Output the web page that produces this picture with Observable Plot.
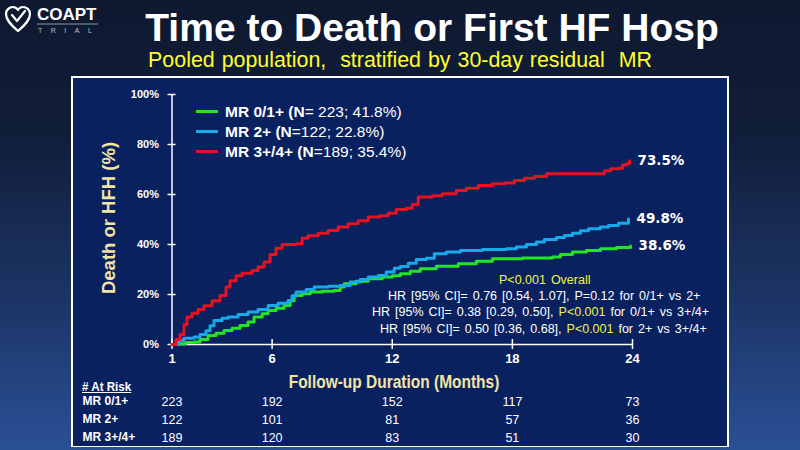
<!DOCTYPE html>
<html><head><meta charset="utf-8">
<script src="https://cdn.jsdelivr.net/npm/d3@7"></script>
<script src="https://cdn.jsdelivr.net/npm/@observablehq/plot@0.6"></script>
<style>
html,body{margin:0;padding:0}
body{width:800px;height:450px;overflow:hidden;position:relative;font-family:"Liberation Sans",Arial,sans-serif;
 background:linear-gradient(180deg,#0e1930 0%,#111e3a 30%,#1d376a 70%,#2b5096 100%);}
.abs{position:absolute;white-space:nowrap}
#title{left:32px;width:800px;top:7px;text-align:center;color:#fff;font-weight:bold;font-size:39px;line-height:42px}
#subtitle{left:0px;width:800px;top:48px;text-align:center;color:#ffff2a;font-size:21.4px;line-height:24px;word-spacing:1px}
#panel{left:71px;top:76px;width:658px;height:371px;box-sizing:border-box;border:2px solid #fff;border-bottom-width:1.5px;background:#0a2160}
#panel svg{position:absolute;left:0}
.leg{position:absolute;color:#fff;font-size:15.5px;line-height:18px;white-space:nowrap}
.leg b{font-weight:bold}
.sw{display:inline-block;width:22px;height:3px;vertical-align:middle;margin-right:7px;position:relative;top:-1px}
.stat{position:absolute;color:#fff;font-size:12.5px;line-height:14px;white-space:nowrap;word-spacing:1.5px}
.y{color:#f2f24a}
#ylab{left:109px;top:218px;transform:translate(-50%,-50%) rotate(-90deg);color:#f3e4a4;font-weight:bold;font-size:18.5px}
#xlab{left:394px;top:382px;transform:translate(-50%,-50%) scaleX(0.86);color:#f3e4a4;font-weight:bold;font-size:18px}
#risk{left:82px;top:379px;transform-origin:left center;transform:scaleX(0.86);color:#fff;font-weight:bold;font-size:13.5px;text-decoration:underline}
</style></head>
<body>
<svg class="abs" style="left:3px;top:3px" width="100" height="32" viewBox="0 0 100 32">
  <path d="M15 28 C8 22 3 17 3 11 C3 6.5 6.5 4 10 4 C12.5 4 14 5.5 15 7 M15 28 C22 22 27 17 27 11 C27 6.5 23.5 4 20 4 C18 4 16.5 5 15.5 6" fill="none" stroke="#fff" stroke-width="2.2" stroke-linecap="round"/>
  <path d="M9 12 L14 18 L22 8" fill="none" stroke="#fff" stroke-width="2.2" stroke-linecap="round" stroke-linejoin="round"/>
  <text x="34" y="17" fill="#fff" font-family="Liberation Sans,Arial" font-weight="bold" font-size="17">COAPT</text>
  <line x1="34" y1="21" x2="95" y2="21" stroke="#8899aa" stroke-width="1"/>
  <text x="35" y="30" fill="#b8c0cc" font-family="Liberation Sans,Arial" font-size="7" letter-spacing="8.5">TRIAL</text>
</svg>
<div id="title" class="abs">Time to Death or First HF Hosp</div>
<div id="subtitle" class="abs">Pooled population,&nbsp; stratified by 30-day residual&nbsp; MR</div>
<div id="panel" class="abs"></div>
<div id="ylab" class="abs">Death or HFH (%)</div>
<div id="xlab" class="abs">Follow-up Duration (Months)</div>
<div id="risk" class="abs"># At Risk</div>
<div id="legend"></div>
<div class="stat y" style="left:499px;top:273px">P&lt;0.001 Overall</div>
<div class="stat" style="left:388px;top:289px">HR [95% CI]= 0.76 [0.54, 1.07], P=0.12 for 0/1+ vs 2+</div>
<div class="stat" style="left:372px;top:305px">HR [95% CI]= 0.38 [0.29, 0.50], <span class="y">P&lt;0.001</span> for 0/1+ vs 3+/4+</div>
<div class="stat" style="left:380px;top:322px">HR [95% CI]= 0.50 [0.36, 0.68], <span class="y">P&lt;0.001</span> for 2+ vs 3+/4+</div>
<script>
// ---- data ----
const seriesNames = ["MR 0/1+", "MR 2+", "MR 3+/4+"];
const legendBold = ["MR 0/1+ (N", "MR 2+ (N", "MR 3+/4+ (N"];
const legendRest = ["= 223; 41.8%)", "=122; 22.8%)", "=189; 35.4%)"];
const seriesColors = ["#22e622", "#17aaea", "#e8121e"];
const finalLabels = ["38.6%", "49.8%", "73.5%"];
const xTicks = [1, 6, 12, 18, 24];
const yTicks = [0, 20, 40, 60, 80, 100];
// cumulative incidence (month, %)
const mr01 = [[1.0,0],[1.3,0.3],[1.7,0.8],[2.1,1],[2.4,2],[2.8,3.6],[3.2,4.5],[3.6,5.6],[4.0,6.5],[4.4,7.6],[4.8,9],[5.1,11],[5.5,12.3],[5.8,13.6],[6.2,14.5],[6.6,15.6],[6.9,17.5],[7.1,19.6],[7.5,20.3],[7.9,21],[8.5,21.3],[9.1,21.6],[9.4,23],[9.6,24.3],[10.2,25.3],[10.8,26.3],[11.5,27],[12.0,27.5],[12.4,28.3],[12.9,29.3],[13.4,30.3],[14.2,31.3],[15.3,32.3],[16.2,33.3],[17.0,34.3],[18.5,34.6],[20.0,35],[20.4,36],[21.0,37],[21.7,37.6],[22.4,38.3],[23.2,38.8],[23.9,39.4]];
const mr2 = [[1.0,0],[1.3,1.6],[1.6,2.5],[2.1,3],[2.4,4],[2.7,5.5],[2.9,7.5],[3.1,9.6],[3.5,10.5],[3.8,11],[4.3,12],[4.8,13],[5.3,14],[5.8,15.6],[6.3,16.5],[6.8,17.6],[7.0,19.5],[7.2,21],[7.7,22],[8.1,23],[8.8,23.3],[9.4,23.6],[9.9,25],[10.4,26],[10.8,27],[11.3,27.6],[11.7,29],[12.1,30.5],[12.4,31.2],[12.8,32.5],[13.2,34],[13.7,34.5],[14.1,36.3],[14.7,37],[15.4,37.6],[16.5,38],[17.7,38.3],[18.2,39],[18.7,40],[19.2,41],[19.6,42],[20.2,42.8],[20.6,43.6],[21.0,44.5],[21.4,45.5],[21.8,46.3],[22.4,47],[22.8,47.6],[23.3,48.5],[23.8,50.2]];
const mr34 = [[1.0,0],[1.2,2],[1.4,4],[1.6,8],[1.75,11],[2.0,12.5],[2.3,14],[2.6,15.5],[3.0,17.5],[3.4,19.6],[3.7,23],[3.9,25.5],[4.2,27.5],[4.5,28.5],[5.0,29.6],[5.3,31],[5.6,33],[5.9,36],[6.2,38.5],[6.5,40],[7.2,40.3],[7.5,42.5],[7.8,43.5],[8.3,44.5],[8.8,45.6],[9.3,47],[9.8,48.3],[10.3,49.5],[10.8,51],[11.4,51.5],[11.8,52.5],[12.2,54],[12.7,54.5],[13.0,56],[13.3,59],[14.0,59.5],[14.5,60.3],[15.2,61.6],[15.7,62.5],[16.3,63.6],[17.0,64.3],[17.6,64.6],[18.1,65.6],[18.6,66.5],[19.1,67.2],[19.7,68.3],[22.3,68.3],[22.6,69.5],[22.9,70.3],[23.3,70.5],[23.5,71.8],[23.7,72.3],[23.85,73.5]];
const atRisk01 = [223, 192, 152, 117, 73];
const atRisk2 = [122, 101, 81, 57, 36];
const atRisk34 = [189, 120, 83, 51, 30];

// ---- build ----
const allSeries = [mr01, mr2, mr34];
const rows = [];
allSeries.forEach((s, i) => s.forEach(([m, p]) => rows.push({group: seriesNames[i], m, p})));
const ends = allSeries.map((s, i) => ({group: seriesNames[i], m: s[s.length - 1][0], p: s[s.length - 1][1], label: finalLabels[i]}));

const W = 654, ML = 98.5, MR = 95;
const main = Plot.plot({
  width: W, height: 310,
  marginLeft: ML, marginRight: MR, marginTop: 16, marginBottom: 44,
  style: {background: "transparent", color: "#fff", fontFamily: "Liberation Sans, Arial, sans-serif", fontWeight: "bold", overflow: "visible"},
  x: {domain: [1, 24]},
  y: {domain: [0, 100]},
  color: {domain: seriesNames, range: seriesColors},
  marks: [
    Plot.ruleY([0], {stroke: "#fff", strokeWidth: 1.5}),
    Plot.ruleX([1], {stroke: "#fff", strokeWidth: 1.5}),
    Plot.ruleX(xTicks, {x: d => d, y1: -2, y2: 2, stroke: "#fff", strokeWidth: 1.5}),
    Plot.ruleY(yTicks, {y: d => d, x1: 0.8, x2: 1.2, stroke: "#fff", strokeWidth: 1.5}),
    Plot.axisX({ticks: xTicks, tickSize: 0, tickPadding: 9, label: null, fontSize: 13, fontWeight: "bold", fill: "#fff"}),
    Plot.axisY({ticks: yTicks, tickSize: 0, tickPadding: 13, tickFormat: d => d + "%", label: null, fontSize: 11, fontWeight: "bold", fill: "#fff"}),
    Plot.line(rows, {x: "m", y: "p", z: "group", stroke: "group", strokeWidth: 3, curve: "step-after"}),
    Plot.text(ends, {x: "m", y: "p", text: "label", dx: 8, textAnchor: "start", fill: "#fff", fontSize: 13.5, fontWeight: "bold", fontFamily: "DejaVu Sans, sans-serif"})
  ]
});
main.style.top = "0px";
document.getElementById("panel").appendChild(main);

const riskRows = [];
[atRisk01, atRisk2, atRisk34].forEach((arr, i) => arr.forEach((n, j) => riskRows.push({group: seriesNames[i], m: xTicks[j], n})));
const risk = Plot.plot({
  width: W, height: 54,
  marginLeft: ML, marginRight: MR, marginTop: 0, marginBottom: 0,
  style: {background: "transparent", color: "#fff", fontFamily: "Liberation Sans, Arial, sans-serif", overflow: "visible"},
  x: {domain: [1, 24], axis: null},
  y: {domain: seriesNames, axis: null, padding: 0.5},
  marks: [
    Plot.text(riskRows, {x: "m", y: "group", text: d => String(d.n), fill: "#fff", fontSize: 12.5}),
    Plot.text(seriesNames, {y: d => d, frameAnchor: "left", dx: -(ML - 9), textAnchor: "start", text: d => d, fill: "#fff", fontSize: 12, fontWeight: "bold"})
  ]
});
risk.style.top = "314px";
document.getElementById("panel").appendChild(risk);

// legend
const leg = document.getElementById("legend");
seriesNames.forEach((g, i) => {
  const d = document.createElement("div");
  d.className = "leg";
  d.style.left = "196px";
  d.style.top = (103 + i * 20) + "px";
  d.innerHTML = `<span class="sw" style="background:${seriesColors[i]}"></span><b>${legendBold[i]}</b>${legendRest[i]}`;
  leg.appendChild(d);
});
</script>
</body></html>
